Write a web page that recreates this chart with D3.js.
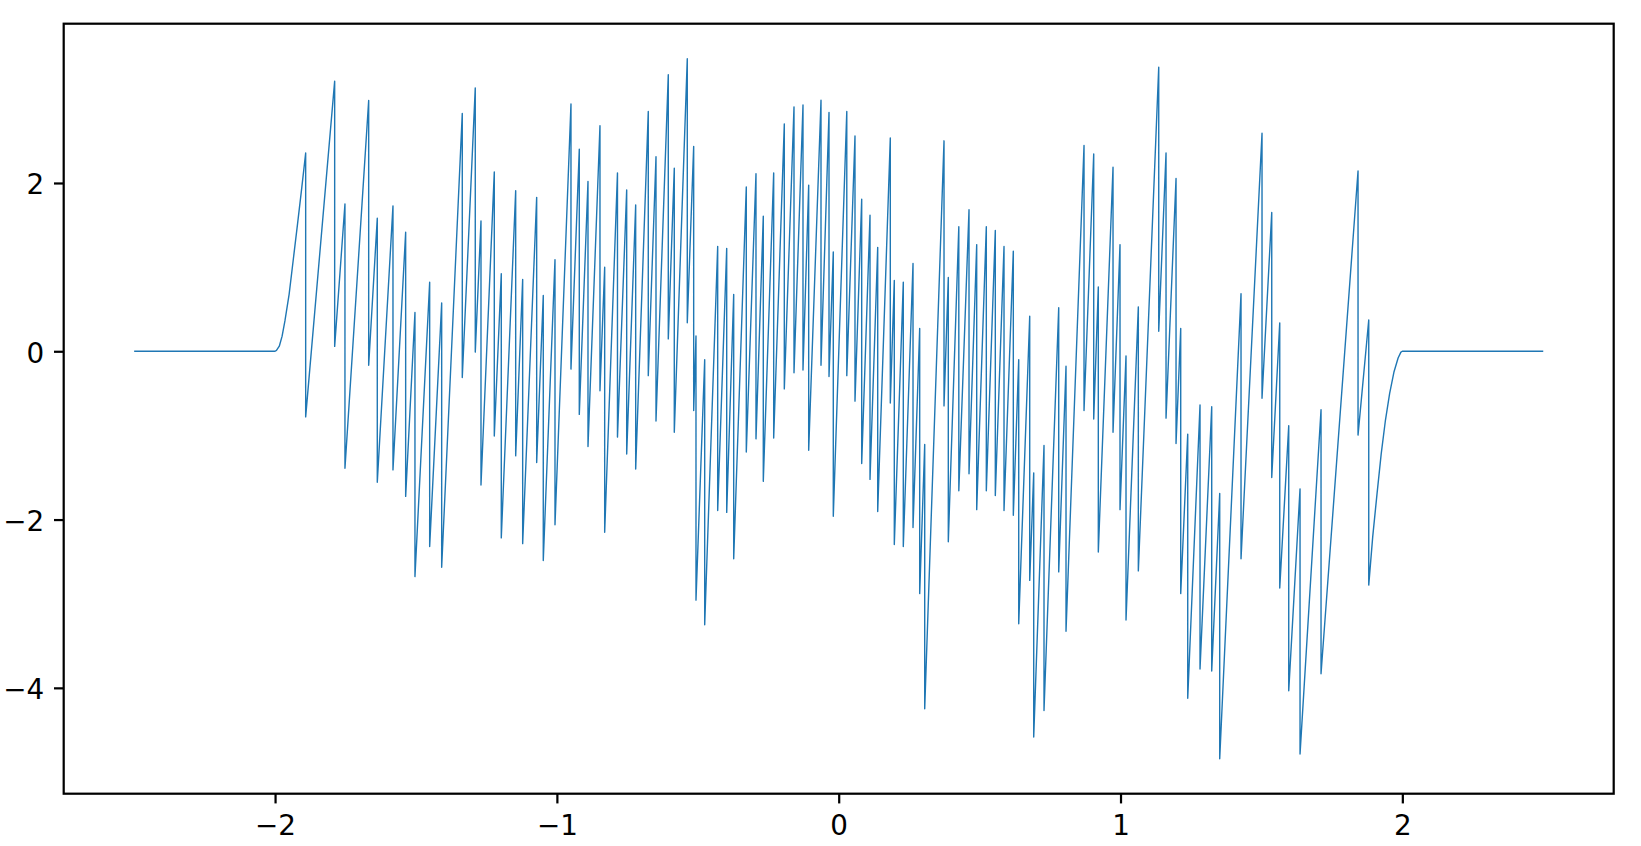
<!DOCTYPE html>
<html>
<head>
<meta charset="utf-8">
<script src="https://cdn.jsdelivr.net/npm/d3@7"></script>
<style>
  html, body { margin: 0; padding: 0; background: #fff; }
  svg { display: block; }
  .tick text { font-family: "DejaVu Sans", sans-serif; font-size: 27.8px; fill: #000; }
</style>
</head>
<body>
<svg id="chart" width="1641" height="846"></svg>
<script>
// ---- data ----
const leadX = [-2.5, -2.0, -1.995, -1.985, -1.975, -1.965, -1.95, -1.935, -1.92, -1.905];
const leadY = [0, 0, 0.01, 0.06, 0.18, 0.36, 0.68, 1.1, 1.52, 1.95];

const jumpX = [
  -1.8914, -1.7885, -1.7520, -1.6678, -1.6373, -1.5816, -1.5366, -1.5036, -1.4514, -1.4088,
  -1.3357, -1.2896, -1.2693, -1.2221, -1.1973, -1.1462, -1.1214, -1.0717, -1.0483, -1.0067,
  -0.9500, -0.9205, -0.8896, -0.8471, -0.8304, -0.7850, -0.7523, -0.7204, -0.6757, -0.6483,
  -0.6047, -0.5834, -0.5373, -0.5146, -0.5064, -0.4755, -0.4294, -0.3974, -0.3726, -0.3279,
  -0.2935, -0.2676, -0.2307, -0.1930, -0.1586, -0.1267, -0.1065, -0.0628, -0.0344, -0.0192,
  0.0287, 0.0578, 0.0816, 0.1111, 0.1384, 0.1831, 0.1973, 0.2292, 0.2637, 0.2874,
  0.3052, 0.3737, 0.3889, 0.4262, 0.4624, 0.4897, 0.5238, 0.5557, 0.5866, 0.6196,
  0.6388, 0.6778, 0.6920, 0.7285, 0.7807, 0.8066, 0.8705, 0.9049, 0.9212, 0.9734,
  0.9982, 1.0195, 1.0632, 1.1356, 1.1615, 1.1970, 1.2136, 1.2385, 1.2821, 1.3236,
  1.3520, 1.4276, 1.5021, 1.5366, 1.5650, 1.5969, 1.6370, 1.7115, 1.8428, 1.8808
];
const jumpTop = [
  2.356, 3.21, 1.75, 2.98, 1.58, 1.728, 1.414, 0.461, 0.82, 0.573,
  2.827, 3.13, 1.549, 2.131, 0.921, 1.907, 0.853, 1.829, 0.663, 1.089,
  2.939, 2.401, 2.019, 2.681, 0.999, 2.12, 1.918, 1.739, 2.849, 2.311,
  3.286, 2.176, 3.477, 2.434, 0.181, -0.10, 1.246, 1.223, 0.674, 1.952,
  2.109, 1.605, 2.12, 2.703, 2.905, 2.927, 1.975, 2.984, 2.838, 1.179,
  2.849, 2.558, 1.806, 1.616, 1.235, 2.535, 0.842, 0.82, 1.044, 0.271,
  -1.108, 2.501, 0.876, 1.481, 1.683, 1.268, 1.481, 1.436, 1.246, 1.19,
  -0.099, 0.416, -1.445, -1.12, 0.517, -0.178, 2.445, 2.344, 0.764, 2.188,
  1.268, -0.055, 0.528, 3.376, 2.356, 2.053, 0.271, -0.985, -0.638, -0.66,
  -1.691, 0.685, 2.591, 1.649, 0.338, -0.884, -1.635, -0.694, 2.143, 0.371
];
const jumpBottom = [
  -0.78, 0.058, -1.39, -0.167, -1.557, -1.41, -1.725, -2.678, -2.32, -2.566,
  -0.312, -0.01, -1.59, -1.008, -2.218, -1.243, -2.286, -1.321, -2.487, -2.061,
  -0.212, -0.75, -1.131, -0.469, -2.151, -1.02, -1.22, -1.40, -0.29, -0.828,
  0.147, -0.963, 0.338, -0.705, -2.958, -3.25, -1.893, -1.915, -2.465, -1.198,
  -1.041, -1.546, -1.03, -0.447, -0.256, -0.223, -1.176, -0.167, -0.301, -1.96,
  -0.29, -0.593, -1.333, -1.523, -1.904, -0.615, -2.297, -2.32, -2.095, -2.88,
  -4.248, -0.649, -2.263, -1.658, -1.456, -1.882, -1.658, -1.714, -1.893, -1.949,
  -3.238, -2.723, -4.584, -4.27, -2.622, -3.328, -0.705, -0.806, -2.386, -0.963,
  -1.882, -3.194, -2.61, 0.237, -0.795, -1.097, -2.88, -4.124, -3.777, -3.799,
  -4.842, -2.465, -0.559, -1.501, -2.813, -4.034, -4.786, -3.833, -0.996, -2.779
];

const tailX = [1.895, 1.91, 1.925, 1.94, 1.955, 1.97, 1.985, 1.995, 2.0, 2.5];
const tailY = [-2.2, -1.7, -1.22, -0.82, -0.5, -0.25, -0.08, -0.01, 0, 0];

const xTicks = [-2, -1, 0, 1, 2];
const yTicks = [-4, -2, 0, 2];

// ---- build series ----
const points = [];
leadX.forEach((xv, i) => points.push([xv, leadY[i]]));
jumpX.forEach((xv, i) => { points.push([xv, jumpTop[i]]); points.push([xv, jumpBottom[i]]); });
tailX.forEach((xv, i) => points.push([xv, tailY[i]]));

// ---- layout ----
const plotLeft = 63.7, plotRight = 1613.7, plotTop = 23.7, plotBottom = 793.7;
const pt = 200 / 72;
const tickLen = 3.5 * pt, lw = 0.8 * pt;

const xExt = d3.extent(points, d => d[0]);
const yExt = d3.extent(points, d => d[1]);
const xm = (xExt[1] - xExt[0]) * 0.05, ym = (yExt[1] - yExt[0]) * 0.05;

const xScale = d3.scaleLinear().domain([xExt[0] - xm, xExt[1] + xm]).range([plotLeft, plotRight]);
const yScale = d3.scaleLinear().domain([yExt[0] - ym, yExt[1] + ym]).range([plotBottom, plotTop]);

const svg = d3.select("#chart");
svg.append("rect").attr("width", 1641).attr("height", 846).attr("fill", "#fff");

const fmt = d => String(d).replace("-", "\u2212");

// data line
svg.append("path")
  .datum(points)
  .attr("fill", "none")
  .attr("stroke", "#1f77b4")
  .attr("stroke-width", 1.4)
  .attr("stroke-linejoin", "round")
  .attr("d", d3.line().x(d => xScale(d[0])).y(d => yScale(d[1])));

// x axis
const gx = svg.append("g").attr("transform", `translate(0,${plotBottom})`)
  .call(d3.axisBottom(xScale).tickValues(xTicks).tickFormat(fmt).tickSize(tickLen).tickSizeOuter(0));
gx.select(".domain").remove();
gx.selectAll(".tick line").attr("stroke", "#000").attr("stroke-width", lw);
gx.selectAll(".tick text").attr("y", 41.3).attr("dy", null).attr("text-anchor", "middle");

// y axis
const gy = svg.append("g").attr("transform", `translate(${plotLeft},0)`)
  .call(d3.axisLeft(yScale).tickValues(yTicks).tickFormat(fmt).tickSize(tickLen).tickSizeOuter(0));
gy.select(".domain").remove();
gy.selectAll(".tick line").attr("stroke", "#000").attr("stroke-width", lw);
gy.selectAll(".tick text").attr("x", -(tickLen * 2)).attr("dy", null).attr("y", 11).attr("text-anchor", "end");

// frame
svg.append("rect")
  .attr("x", plotLeft).attr("y", plotTop)
  .attr("width", plotRight - plotLeft).attr("height", plotBottom - plotTop)
  .attr("fill", "none").attr("stroke", "#000").attr("stroke-width", lw)
  .attr("stroke-linecap", "square");
</script>
</body>
</html>
